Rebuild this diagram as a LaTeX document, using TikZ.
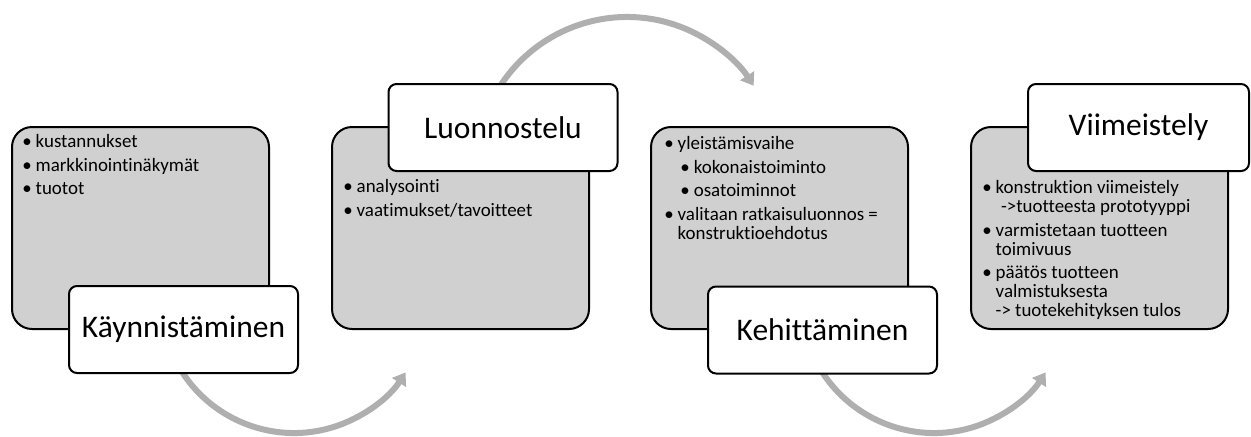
\documentclass[tikz,border=0pt]{standalone}
\usepackage{fontspec}
\setmainfont{Carlito}[Ligatures={TeX,NoCommon}]
\usetikzlibrary{arrows.meta}
\definecolor{boxgray}{RGB}{208,208,208}
\definecolor{arcgray}{RGB}{175,175,175}
\def\px{0.75pt}

\begin{document}
\begin{tikzpicture}
	[x=0.75pt,y=-0.75pt,
	phase/.style={draw=black,line width=1.5pt,fill=boxgray,rounded corners=15pt,minimum width=257*\px,minimum height=202*\px,inner sep=0pt},
	title/.style={draw=black,line width=1.5pt,fill=white,rounded corners=6pt,minimum width=229*\px,minimum height=87*\px,font=\fontsize{23.6}{28}\selectfont},
	items/.style={anchor=base west,inner sep=0pt,font=\fontsize{14.2}{14.25}\selectfont},
	flow/.style={draw=arcgray,line width=4.5pt,-{Triangle[length=9pt,width=12pt]}}]
	\useasboundingbox (0,0) rectangle (1251,436);
	
	% arcs between the phases
	\coordinate (c1) at (294,300);
	\coordinate (c2) at (627,168);
	\coordinate (c3) at (934,300);
	\draw[flow] ([shift={(160:133)}]c1) arc[start angle=160,end angle=33,radius=133];
	\draw[flow] ([shift={(-155:151)}]c2) arc[start angle=-155,end angle=-33,radius=151];
	\draw[flow] ([shift={(160:133)}]c3) arc[start angle=160,end angle=33,radius=133];
	
	% phases
	\node[phase] (p1) at (140.5,228) {};
	\node[phase] (p2) at (460.5,228) {};
	\node[phase] (p3) at (779.5,228) {};
	\node[phase] (p4) at (1099.5,228) {};
	
	\node[items] (t1) at (22,147.5) {\begin{tabular}[t]{@{}l@{\hspace{3pt}}l@{}}
		\textbullet & kustannukset\\[3.5pt]
		\textbullet & markkinointinäkymät\\[3.5pt]
		\textbullet & tuotot
	\end{tabular}};
	\node[items] (t2) at (343,192.5) {\begin{tabular}[t]{@{}l@{\hspace{3pt}}l@{}}
		\textbullet & analysointi\\[3.5pt]
		\textbullet & vaatimukset/tavoitteet
	\end{tabular}};
	\node[items] (t3) at (664,149.5) {\begin{tabular}[t]{@{}l@{\hspace{3pt}}l@{}}
		\textbullet & yleistämisvaihe\\[3.5pt]
		& \hspace{2pt}\textbullet\hspace{3pt}kokonaistoiminto\\[3.5pt]
		& \hspace{2pt}\textbullet\hspace{3pt}osatoiminnot\\[3.5pt]
		\textbullet & valitaan ratkaisuluonnos =\\
		& konstruktioehdotus
	\end{tabular}};
	\node[items] (t4) at (982,193.5) {\begin{tabular}[t]{@{}l@{\hspace{3pt}}l@{}}
		\textbullet & konstruktion viimeistely\\
		& \hspace{4pt}->tuotteesta prototyyppi\\[3.5pt]
		\textbullet & varmistetaan tuotteen\\
		& toimivuus\\[3.5pt]
		\textbullet & päätös tuotteen\\
		& valmistuksesta\\
		& -> tuotekehityksen tulos
	\end{tabular}};
	
	% phase names
	\node[title] (n1) at (183.5,329.5) {Käynnistäminen};
	\node[title] (n2) at (503,127.5) {Luonnostelu};
	\node[title] (n3) at (822.5,330) {Kehittäminen};
	\node[title,minimum width=221*\px] (n4) at (1138.5,127.5) {Viimeistely};
\end{tikzpicture}
\end{document}
